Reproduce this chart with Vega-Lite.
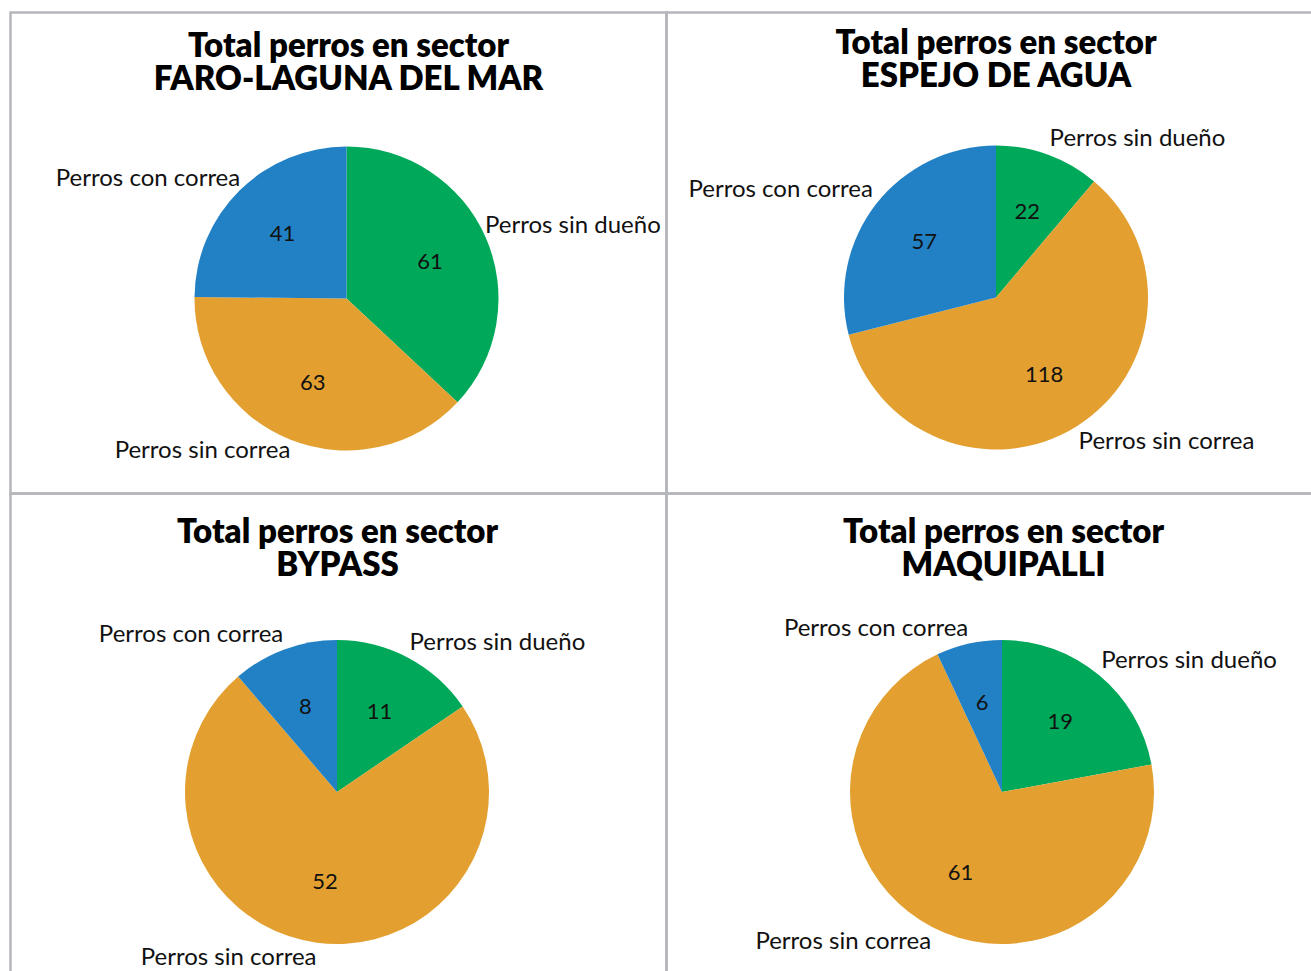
{
  "$schema": "https://vega.github.io/schema/vega-lite/v6.json",
  "background": "white",
  "padding": {"left": 8.5, "top": 10.5, "right": 0, "bottom": 0},
  "data": {
    "values": [
      {"Sector": "FARO-LAGUNA DEL MAR", "Categoria": "Perros sin dueño", "Cantidad": 61},
      {"Sector": "FARO-LAGUNA DEL MAR", "Categoria": "Perros sin correa", "Cantidad": 63},
      {"Sector": "FARO-LAGUNA DEL MAR", "Categoria": "Perros con correa", "Cantidad": 41},
      {"Sector": "ESPEJO DE AGUA", "Categoria": "Perros sin dueño", "Cantidad": 22},
      {"Sector": "ESPEJO DE AGUA", "Categoria": "Perros sin correa", "Cantidad": 118},
      {"Sector": "ESPEJO DE AGUA", "Categoria": "Perros con correa", "Cantidad": 57},
      {"Sector": "BYPASS", "Categoria": "Perros sin dueño", "Cantidad": 11},
      {"Sector": "BYPASS", "Categoria": "Perros sin correa", "Cantidad": 52},
      {"Sector": "BYPASS", "Categoria": "Perros con correa", "Cantidad": 8},
      {"Sector": "MAQUIPALLI", "Categoria": "Perros sin dueño", "Cantidad": 19},
      {"Sector": "MAQUIPALLI", "Categoria": "Perros sin correa", "Cantidad": 61},
      {"Sector": "MAQUIPALLI", "Categoria": "Perros con correa", "Cantidad": 6}
    ]
  },
  "columns": 2,
  "spacing": 0,
  "bounds": "flush",
  "resolve": {"scale": {"theta": "independent"}},
  "concat": [
    {
      "width": 656, "height": 481,
      "view": {"stroke": "#b5b5bc", "strokeWidth": 2.5},
      "transform": [{"filter": "datum.Sector === 'FARO-LAGUNA DEL MAR'"}],
      "title": {"text": ["Total perros en sector", "FARO-LAGUNA DEL MAR"], "offset": -84, "dx": 10},
      "encoding": {
        "theta": {"field": "Cantidad", "type": "quantitative", "stack": "normalize"},
        "order": {"field": "Categoria", "sort": "descending"},
        "detail": {"field": "Categoria"}
      },
      "layer": [
        {"mark": {"type": "arc", "outerRadius": 152, "x": 336, "y": 286},
         "encoding": {"color": {"field": "Categoria", "type": "nominal", "legend": null,
           "scale": {"domain": ["Perros sin dueño", "Perros sin correa", "Perros con correa"], "range": ["#00A859", "#E3A030", "#2281C4"]}}}},
        {"mark": {"type": "text", "radius": 91, "x": 336, "y": 286, "fontSize": 22, "color": "#111111", "font": "Lato"},
         "encoding": {"text": {"field": "Cantidad", "type": "quantitative"}}},
        {"mark": {"type": "text", "radius": 151, "x": 336, "y": 286, "fontSize": 24, "color": "#111111", "font": "Lato",
           "align": {"expr": "(datum.Cantidad_start + datum.Cantidad_end) < 1 ? 'left' : 'right'"},
           "baseline": {"expr": "((datum.Cantidad_start + datum.Cantidad_end) / 2 < 0.25 || (datum.Cantidad_start + datum.Cantidad_end) / 2 > 0.75) ? 'bottom' : 'top'"}},
         "encoding": {"text": {"field": "Categoria", "type": "nominal"}}}
      ]
    },
    {
      "width": 656, "height": 481,
      "view": {"stroke": "#b5b5bc", "strokeWidth": 2.5},
      "transform": [{"filter": "datum.Sector === 'ESPEJO DE AGUA'"}],
      "title": {"text": ["Total perros en sector", "ESPEJO DE AGUA"], "offset": -81, "dx": 1.5},
      "encoding": {
        "theta": {"field": "Cantidad", "type": "quantitative", "stack": "normalize"},
        "order": {"field": "Categoria", "sort": "descending"},
        "detail": {"field": "Categoria"}
      },
      "layer": [
        {"mark": {"type": "arc", "outerRadius": 152, "x": 329.5, "y": 285},
         "encoding": {"color": {"field": "Categoria", "type": "nominal", "legend": null,
           "scale": {"domain": ["Perros sin dueño", "Perros sin correa", "Perros con correa"], "range": ["#00A859", "#E3A030", "#2281C4"]}}}},
        {"mark": {"type": "text", "radius": 91, "x": 329.5, "y": 285, "fontSize": 22, "color": "#111111", "font": "Lato"},
         "encoding": {"text": {"field": "Cantidad", "type": "quantitative"}}},
        {"mark": {"type": "text", "radius": 156, "x": 329.5, "y": 285, "fontSize": 24, "color": "#111111", "font": "Lato",
           "align": {"expr": "(datum.Cantidad_start + datum.Cantidad_end) < 1 ? 'left' : 'right'"},
           "baseline": {"expr": "((datum.Cantidad_start + datum.Cantidad_end) / 2 < 0.25 || (datum.Cantidad_start + datum.Cantidad_end) / 2 > 0.75) ? 'bottom' : 'top'"}},
         "encoding": {"text": {"field": "Categoria", "type": "nominal"}}}
      ]
    },
    {
      "width": 656, "height": 481,
      "view": {"stroke": "#b5b5bc", "strokeWidth": 2.5},
      "transform": [{"filter": "datum.Sector === 'BYPASS'"}],
      "title": {"text": ["Total perros en sector", "BYPASS"], "offset": -89, "dx": -1},
      "encoding": {
        "theta": {"field": "Cantidad", "type": "quantitative", "stack": "normalize"},
        "order": {"field": "Categoria", "sort": "descending"},
        "detail": {"field": "Categoria"}
      },
      "layer": [
        {"mark": {"type": "arc", "outerRadius": 152, "x": 326.5, "y": 298.5},
         "encoding": {"color": {"field": "Categoria", "type": "nominal", "legend": null,
           "scale": {"domain": ["Perros sin dueño", "Perros sin correa", "Perros con correa"], "range": ["#00A859", "#E3A030", "#2281C4"]}}}},
        {"mark": {"type": "text", "radius": 91, "x": 326.5, "y": 298.5, "fontSize": 22, "color": "#111111", "font": "Lato"},
         "encoding": {"text": {"field": "Cantidad", "type": "quantitative"}}},
        {"mark": {"type": "text", "radius": 155, "x": 326.5, "y": 298.5, "fontSize": 24, "color": "#111111", "font": "Lato",
           "align": {"expr": "(datum.Cantidad_start + datum.Cantidad_end) < 1 ? 'left' : 'right'"},
           "baseline": {"expr": "((datum.Cantidad_start + datum.Cantidad_end) / 2 < 0.25 || (datum.Cantidad_start + datum.Cantidad_end) / 2 > 0.75) ? 'bottom' : 'top'"}},
         "encoding": {"text": {"field": "Categoria", "type": "nominal"}}}
      ]
    },
    {
      "width": 656, "height": 481,
      "view": {"stroke": "#b5b5bc", "strokeWidth": 2.5},
      "transform": [{"filter": "datum.Sector === 'MAQUIPALLI'"}],
      "title": {"text": ["Total perros en sector", "MAQUIPALLI"], "offset": -89, "dx": 9},
      "encoding": {
        "theta": {"field": "Cantidad", "type": "quantitative", "stack": "normalize"},
        "order": {"field": "Categoria", "sort": "descending"},
        "detail": {"field": "Categoria"}
      },
      "layer": [
        {"mark": {"type": "arc", "outerRadius": 152, "x": 335.5, "y": 298.5},
         "encoding": {"color": {"field": "Categoria", "type": "nominal", "legend": null,
           "scale": {"domain": ["Perros sin dueño", "Perros sin correa", "Perros con correa"], "range": ["#00A859", "#E3A030", "#2281C4"]}}}},
        {"mark": {"type": "text", "radius": 91, "x": 335.5, "y": 298.5, "fontSize": 22, "color": "#111111", "font": "Lato"},
         "encoding": {"text": {"field": "Cantidad", "type": "quantitative"}}},
        {"mark": {"type": "text", "radius": 155, "x": 335.5, "y": 298.5, "fontSize": 24, "color": "#111111", "font": "Lato",
           "align": {"expr": "(datum.Cantidad_start + datum.Cantidad_end) < 1 ? 'left' : 'right'"},
           "baseline": {"expr": "((datum.Cantidad_start + datum.Cantidad_end) / 2 < 0.25 || (datum.Cantidad_start + datum.Cantidad_end) / 2 > 0.75) ? 'bottom' : 'top'"}},
         "encoding": {"text": {"field": "Categoria", "type": "nominal"}}}
      ]
    }
  ],
  "config": {
    "view": {"stroke": "#b5b5bc", "strokeWidth": 2.5},
    "font": "Lato",
    "title": {"font": "Lato", "fontSize": 33, "fontWeight": 800, "lineHeight": 33, "color": "#000000", "anchor": "middle", "baseline": "alphabetic"}
  }
}
